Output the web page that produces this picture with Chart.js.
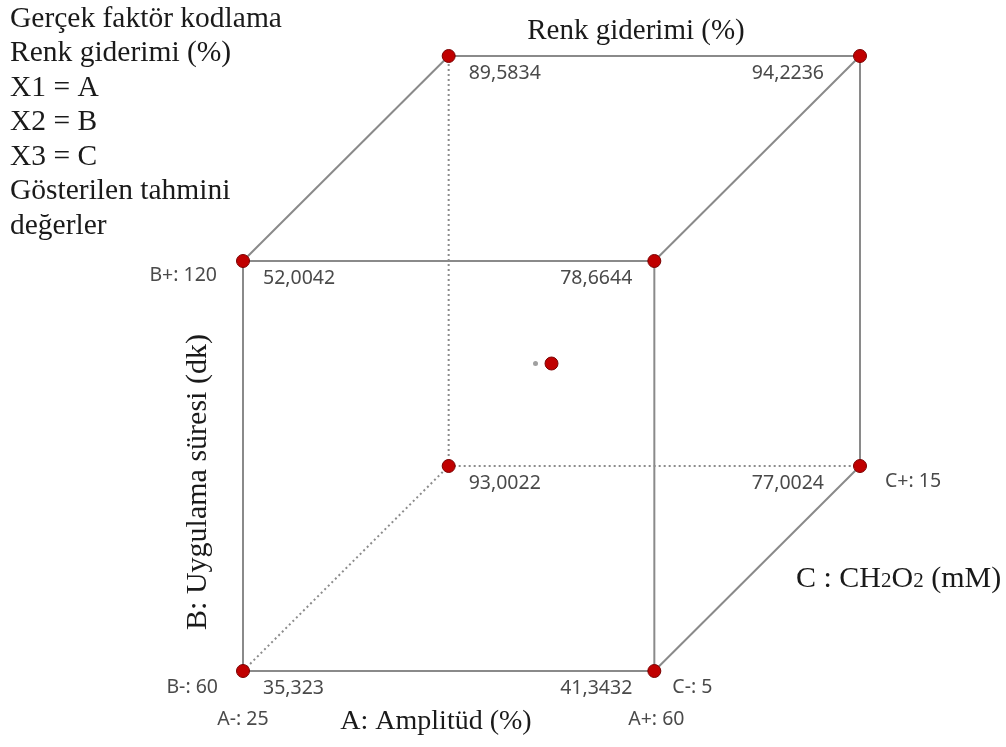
<!DOCTYPE html>
<html>
<head>
<meta charset="utf-8">
<script src="https://cdn.jsdelivr.net/npm/chart.js@4.4.0/dist/chart.umd.min.js"></script>
<style>
  html, body { margin: 0; padding: 0; background: #fff; }
  #wrap { width: 1006px; height: 747px; position: relative; }
</style>
</head>
<body>
<div id="wrap"><canvas id="cube"></canvas></div>
<script>
// kodlanmış faktör seviyeleri (köşeler)
var codedA = [-1, 1, -1, 1, -1, 1, -1, 1];
var codedB = [-1, -1, 1, 1, -1, -1, 1, 1];
var codedC = [-1, -1, -1, -1, 1, 1, 1, 1];
// tahmini renk giderimi (%)
var predicted = ['35,323', '41,3432', '52,0042', '78,6644', '93,0022', '77,0024', '89,5834', '94,2236'];
// merkez nokta
var centerPoint = [0, 0, 0];
// faktör seviye etiketleri
var levelsA = ['A-: 25', 'A+: 60'];
var levelsB = ['B-: 60', 'B+: 120'];
var levelsC = ['C-: 5', 'C+: 15'];
var infoLines = ['Gerçek faktör kodlama', 'Renk giderimi (%)', 'X1 = A', 'X2 = B', 'X3 = C', 'Gösterilen tahmini', 'değerler'];
var titleText = 'Renk giderimi (%)';
var axisA = 'A: Amplitüd (%)';
var axisB = 'B: Uygulama süresi (dk)';

var depth = 0.5;
var lineColor = '#8a8a8a';

function project(a, b, c) {
    return { x: a + depth * c, y: b + depth * c };
}

var vertices = codedA.map(function (a, i) {
    return project(a, codedB[i], codedC[i]);
});

// noktalar en üstte çizilsin diye önce ekleniyor
var datasets = [{
    data: vertices.concat([project(centerPoint[0], centerPoint[1], centerPoint[2])]),
    showLine: false,
    pointRadius: 6.5,
    pointBackgroundColor: '#c00000',
    pointBorderColor: '#7a0000',
    pointBorderWidth: 1,
    clip: false,
    order: 0
}];

// kenarlar: tek koordinatta farklı olan köşe çiftleri
var hiddenIdx = 4; // (-1,-1,+1) arka alt sol köşe
for (var i = 0; i < 8; i++) {
    for (var j = i + 1; j < 8; j++) {
        var diff = (codedA[i] != codedA[j]) + (codedB[i] != codedB[j]) + (codedC[i] != codedC[j]);
        if (diff !== 1) continue;
        var hidden = (i === hiddenIdx || j === hiddenIdx);
        datasets.push({
            data: [vertices[i], vertices[j]],
            showLine: true,
            borderColor: hidden ? '#8c8c8c' : lineColor,
            borderWidth: 2,
            borderDash: hidden ? [2, 3] : [],
            pointRadius: 0,
            clip: false,
            order: 1
        });
    }
}

var labelPlugin = {
    id: 'cubeLabels',
    afterDatasetsDraw: function (chart) {
        var ctx = chart.ctx;
        var xs = chart.scales.x, ys = chart.scales.y;
        function px(p) { return { x: xs.getPixelForValue(p.x), y: ys.getPixelForValue(p.y) }; }
        ctx.save();

        // merkezdeki gri nokta
        var cp = px(project(0, 0, 0));
        ctx.fillStyle = '#a0a0a0';
        ctx.beginPath();
        ctx.arc(cp.x - 16, cp.y, 2.5, 0, Math.PI * 2);
        ctx.fill();

        // tahmini değerler
        ctx.font = '19.5px "Noto Sans"';
        ctx.fillStyle = '#4a4a4a';
        ctx.textBaseline = 'middle';
        for (var k = 0; k < vertices.length; k++) {
            var p = px(vertices[k]);
            if (codedA[k] < 0) {
                ctx.textAlign = 'left';
                ctx.fillText(predicted[k], p.x + 20, p.y + 17);
            } else {
                ctx.textAlign = 'right';
                ctx.fillText(predicted[k], p.x - (codedC[k] < 0 ? 22 : 36), p.y + 17);
            }
        }

        // seviye etiketleri
        var fbl = px(vertices[0]), fbr = px(vertices[1]), ftl = px(vertices[2]), bbr = px(vertices[5]);
        ctx.textAlign = 'center';
        ctx.fillText(levelsA[0], fbl.x, fbl.y + 48);
        ctx.fillText(levelsA[1], fbr.x + 2, fbr.y + 48);
        ctx.textAlign = 'right';
        ctx.fillText(levelsB[0], fbl.x - 25, fbl.y + 16);
        ctx.fillText(levelsB[1], ftl.x - 26, ftl.y + 14);
        ctx.textAlign = 'left';
        ctx.fillText(levelsC[0], fbr.x + 18, fbr.y + 16);
        ctx.fillText(levelsC[1], bbr.x + 25, bbr.y + 15);

        // serif metinler
        ctx.fillStyle = '#1a1a1a';
        ctx.font = '29.5px "Liberation Serif"';
        ctx.textAlign = 'left';
        for (var n = 0; n < infoLines.length; n++) {
            ctx.fillText(infoLines[n], 10, 19 + n * 34.5);
        }
        ctx.font = '29px "Liberation Serif"';
        ctx.textAlign = 'center';
        ctx.fillText(titleText, 636, 31);
        ctx.font = '28px "Liberation Serif"';
        ctx.fillText(axisA, 436, 722);

        // C ekseni, küçük 2'ler
        var parts = [['C : CH', 30], ['2', 21], ['O', 30], ['2', 21], [' (mM)', 30]];
        var cx = 796;
        ctx.textAlign = 'left';
        ctx.textBaseline = 'alphabetic';
        parts.forEach(function (pt) {
            ctx.font = pt[1] + 'px "Liberation Serif"';
            ctx.fillText(pt[0], cx, 587);
            cx += ctx.measureText(pt[0]).width;
        });

        ctx.textBaseline = 'middle';
        ctx.translate(198, 482);
        ctx.rotate(-Math.PI / 2);
        ctx.font = '30px "Liberation Serif"';
        ctx.textAlign = 'center';
        ctx.fillText(axisB, 0, 0);
        ctx.restore();
    }
};

var chart = new Chart(document.getElementById('cube'), {
    type: 'scatter',
    data: { datasets: datasets },
    options: {
        responsive: true,
        maintainAspectRatio: false,
        animation: false,
        layout: { padding: { left: 243, right: 146, top: 56, bottom: 76 } },
        scales: {
            x: { type: 'linear', min: -1.5, max: 1.5, display: false },
            y: { type: 'linear', min: -1.5, max: 1.5, display: false }
        },
        plugins: {
            legend: { display: false },
            tooltip: { enabled: false }
        }
    },
    plugins: [labelPlugin]
});
</script>
</body>
</html>
